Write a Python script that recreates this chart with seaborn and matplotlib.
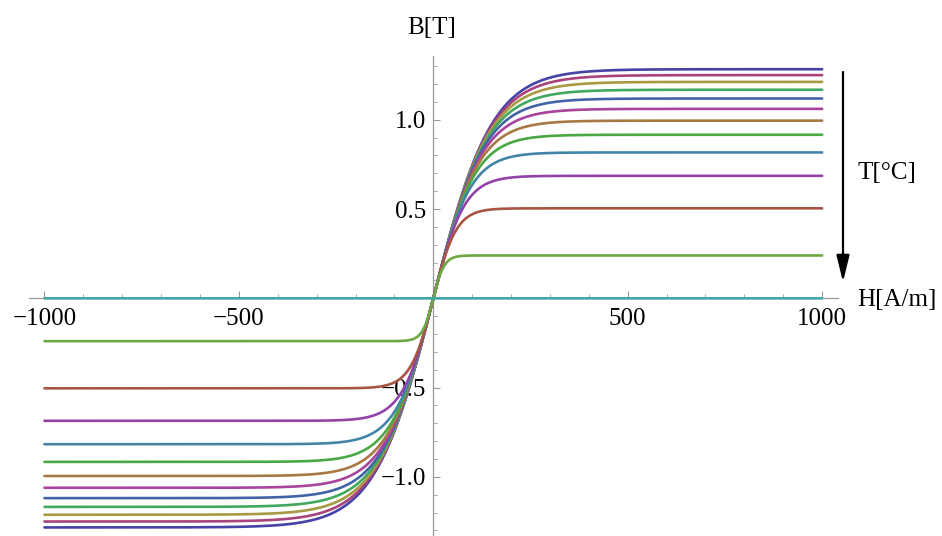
import colorsys
import numpy as np
import pandas as pd
import seaborn as sns
import matplotlib
matplotlib.use("Agg")
import matplotlib.pyplot as plt
from matplotlib.ticker import FixedLocator, MultipleLocator

# ---- data ----
# saturation induction of each curve (T), from highest to lowest temperature order
saturation_B = [1.283, 1.250, 1.212, 1.168, 1.119, 1.061, 0.995, 0.916,
                0.817, 0.686, 0.504, 0.240, 0.0]
# common initial slope dB/dH near the origin (T per A/m)
initial_slope = 0.0085
H_range = [-1000, 1000]
x_ticks = [-1000, -500, 500, 1000]
x_ticklabels = ["\u22121000", "\u2212500", "500", "1000"]
y_ticks = [-1.0, -0.5, 0.5, 1.0]
y_ticklabels = ["\u22121.0", "\u22120.5", "0.5", "1.0"]
x_label = "H[A/m]"
y_label = "B[T]"
arrow_label = "T[\u00b0C]"

# Mathematica (v6-9) default plot hues
hues = [0.67, 0.906068, 0.142136, 0.378204, 0.614272, 0.85034, 0.0864079,
        0.322476, 0.558544, 0.794612, 0.0306798, 0.266748, 0.502816]

# ---- build curves ----
H = np.linspace(H_range[0], H_range[1], 1201)
rows = []
for i, bs in enumerate(saturation_B):
    if bs > 0:
        B = bs * np.tanh(initial_slope * H / bs)
    else:
        B = np.zeros_like(H)
    rows.append(pd.DataFrame({"H": H, "B": B, "curve": i}))
df = pd.concat(rows, ignore_index=True)
palette = [colorsys.hsv_to_rgb(h, 0.6, 0.66) for h in hues]

sns.set_style("white")
plt.rcParams["font.family"] = ["Liberation Serif", "DejaVu Serif"]
plt.rcParams["text.color"] = "black"

W, Hpx = 942, 536
fig = plt.figure(figsize=(W / 100, Hpx / 100), dpi=100)
ax_left, ax_right = 28.9 / W, 837.7 / W
ax_top, ax_bottom = 1 - 56 / Hpx, 0.0
ax = fig.add_axes([ax_left, ax_bottom, ax_right - ax_left, ax_top - ax_bottom])

sns.lineplot(data=df, x="H", y="B", hue="curve", hue_order=list(range(len(saturation_B))),
             palette=palette, legend=False, estimator=None, sort=False,
             linewidth=1.9, ax=ax)

ax.set_xlim(-1040, 1040)
ax.set_ylim(-1.331, 1.357)
ax.set_xlabel("")
ax.set_ylabel("")

axis_color = "#9a9a9a"
for s in ["top", "right"]:
    ax.spines[s].set_visible(False)
for s in ["left", "bottom"]:
    ax.spines[s].set_position(("data", 0))
    ax.spines[s].set_color(axis_color)
    ax.spines[s].set_linewidth(0.9)
    ax.spines[s].set_zorder(0.5)

ax.xaxis.set_major_locator(FixedLocator(x_ticks))
ax.set_xticklabels(x_ticklabels)
ax.yaxis.set_major_locator(FixedLocator(y_ticks))
ax.set_yticklabels(y_ticklabels)
ax.xaxis.set_minor_locator(MultipleLocator(100))
ax.yaxis.set_minor_locator(MultipleLocator(0.1))
ax.tick_params(axis="both", which="both", bottom=True, left=True, top=False, right=False)
ax.tick_params(axis="both", which="major", direction="in", length=5, width=0.8,
               color=axis_color, labelsize=18, labelcolor="black")
ax.tick_params(axis="both", which="minor", direction="in", length=3, width=0.6,
               color=axis_color)
ax.tick_params(axis="x", which="major", pad=7)
ax.tick_params(axis="y", which="major", pad=5)

# axis labels Mathematica-style
fig.text(432 / W, 1 - 28 / Hpx, y_label, ha="center", va="center", fontsize=18, color="black")
fig.text(857 / W, 1 - 300 / Hpx, x_label, ha="left", va="center", fontsize=18, color="black")

# temperature arrow
ax.annotate("", xy=(843 / W, 1 - 282 / Hpx), xytext=(843 / W, 1 - 72 / Hpx),
            xycoords="figure fraction", textcoords="figure fraction",
            arrowprops=dict(arrowstyle="-|>,head_length=0.9,head_width=0.22",
                            color="black", lw=1.6, shrinkA=0, shrinkB=0,
                            mutation_scale=18))
fig.text(857 / W, 1 - 173 / Hpx, arrow_label, ha="left", va="center", fontsize=18, color="black")

fig.savefig("out.png", dpi=100)
